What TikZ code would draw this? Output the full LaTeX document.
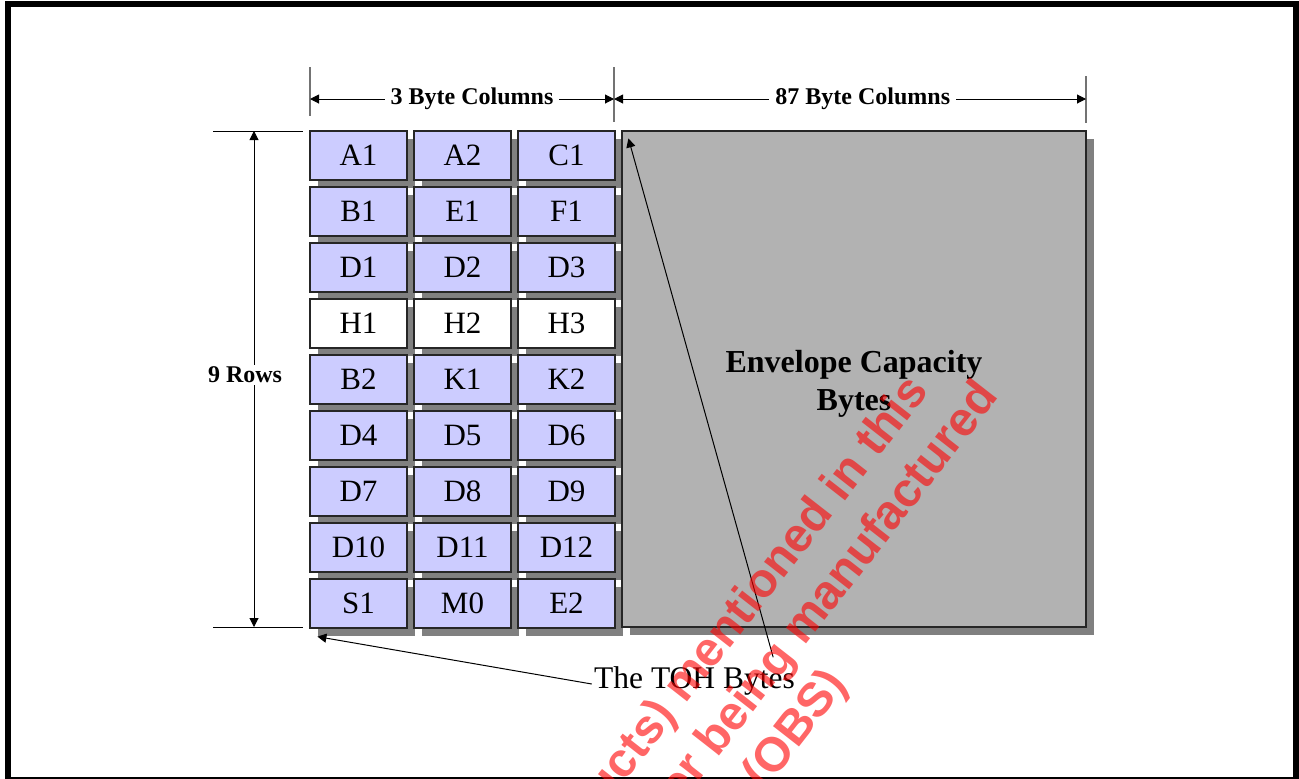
\documentclass[tikz,border=0pt]{standalone}
\usepackage{fontspec}
\setmainfont{Liberation Serif}
\newfontfamily\wmfont{Liberation Sans}
\usepackage{xcolor}
\usetikzlibrary{arrows.meta,positioning,calc,shadows}

\definecolor{cellblue}{HTML}{CCCCFF}
\definecolor{envgray}{HTML}{B2B2B2}

\begin{document}
\begin{tikzpicture}[x=0.5pt, y=-0.5pt, >={Triangle[length=4.5pt,width=4.5pt]},
  cell/.style={draw=black!85, line width=0.6pt, fill=cellblue, minimum width=48.5pt,
    minimum height=24.5pt, inner sep=0pt, font=\fontsize{15.5}{18}\selectfont,
    drop shadow={shadow xshift=4pt, shadow yshift=-4pt, fill=black!50, opacity=1}},
  hcell/.style={cell, fill=white},
  envbox/.style={cell, fill=envgray, minimum width=232pt, minimum height=248pt},
  envtext/.style={align=center, font=\bfseries\fontsize{16}{19}\selectfont},
  dimtick/.style={draw=black!55, line width=0.8pt},
  dimlabel/.style={font=\bfseries\fontsize{12}{14}\selectfont, fill=white, inner xsep=3pt, inner ysep=1pt},
  callout/.style={->, line width=0.5pt},
  wmark/.style={text=red, text opacity=0.6, rotate=52, align=center,
    font=\wmfont\bfseries\fontsize{24}{29}\selectfont}]

  % Page frame
  \useasboundingbox (0,0) rectangle (1299,778);
  \clip (0,0) rectangle (1299,778);
  \draw[line width=3pt] (8,4) rectangle (1295.5,780);

  % Transport overhead bytes
  \node[cell] (A1) at (358.5,155.5) {A1};
  \node[cell] (A2) at (462.5,155.5) {A2};
  \node[cell] (C1) at (566.5,155.5) {C1};
  \node[cell] (B1) at (358.5,211.5) {B1};
  \node[cell] (E1) at (462.5,211.5) {E1};
  \node[cell] (F1) at (566.5,211.5) {F1};
  \node[cell] (D1) at (358.5,267.5) {D1};
  \node[cell] (D2) at (462.5,267.5) {D2};
  \node[cell] (D3) at (566.5,267.5) {D3};
  \node[hcell] (H1) at (358.5,323.5) {H1};
  \node[hcell] (H2) at (462.5,323.5) {H2};
  \node[hcell] (H3) at (566.5,323.5) {H3};
  \node[cell] (B2) at (358.5,379.5) {B2};
  \node[cell] (K1) at (462.5,379.5) {K1};
  \node[cell] (K2) at (566.5,379.5) {K2};
  \node[cell] (D4) at (358.5,435.5) {D4};
  \node[cell] (D5) at (462.5,435.5) {D5};
  \node[cell] (D6) at (566.5,435.5) {D6};
  \node[cell] (D7) at (358.5,491.5) {D7};
  \node[cell] (D8) at (462.5,491.5) {D8};
  \node[cell] (D9) at (566.5,491.5) {D9};
  \node[cell] (D10) at (358.5,547.5) {D10};
  \node[cell] (D11) at (462.5,547.5) {D11};
  \node[cell] (D12) at (566.5,547.5) {D12};
  \node[cell] (S1) at (358.5,603.5) {S1};
  \node[cell] (M0) at (462.5,603.5) {M0};
  \node[cell] (E2) at (566.5,603.5) {E2};

  % Envelope capacity
  \node[envbox] (env) at (854,379) {};
  \node[envtext] (envlbl) at (854,384) {Envelope Capacity\\Bytes};

  % Column dimensions
  \coordinate (colL) at (310,99);
  \coordinate (colM) at (614,99);
  \coordinate (colR) at (1086,99);
  \draw[dimtick] (310,67) -- (310,116);
  \draw[dimtick] (614,67) -- (614,122);
  \draw[dimtick] (1086,76) -- (1086,123);
  \draw[<->, line width=0.5pt] (colL) -- node[dimlabel, pos=0.533] (threecols) {3 Byte Columns} (colM);
  \draw[<->, line width=0.5pt] (colM) -- node[dimlabel, pos=0.527] (specols) {87 Byte Columns} (colR);

  % Row dimension
  \coordinate (rowT) at (254,131);
  \coordinate (rowB) at (254,627);
  \draw[line width=0.5pt] (213,131) -- (303,131);
  \draw[line width=0.5pt] (213,627) -- (303,627);
  \node[dimlabel, fill=none] (rows) at (245,375) {9 Rows};
  \draw[->, line width=0.5pt] (rows.north -| rowT) -- (rowT);
  \draw[->, line width=0.5pt] (rows.south -| rowB) -- (rowB);

  % Callout
  \node[font=\fontsize{15.75}{18}\selectfont, inner sep=1pt] (tohlbl) at (694.5,681) {The TOH Bytes};
  \coordinate (tohtip) at ([shift={(4pt,-4pt)}]S1.south west);
  \coordinate (envtip) at ([shift={(3.5pt,-4pt)}]env.north west);
  \draw[callout] ([yshift=-1.5pt]tohlbl.west) -- (tohtip);
  \draw[callout] ([yshift=3.5pt]$(tohlbl.north west)!0.883!(tohlbl.north east)$) -- (envtip);

  % Watermark
  \node[wmark] (obs) at (751,695) {\hspace*{1em}(Products) mentioned in this\\are no longer being manufactured\\(OBS)};
\end{tikzpicture}
\end{document}
